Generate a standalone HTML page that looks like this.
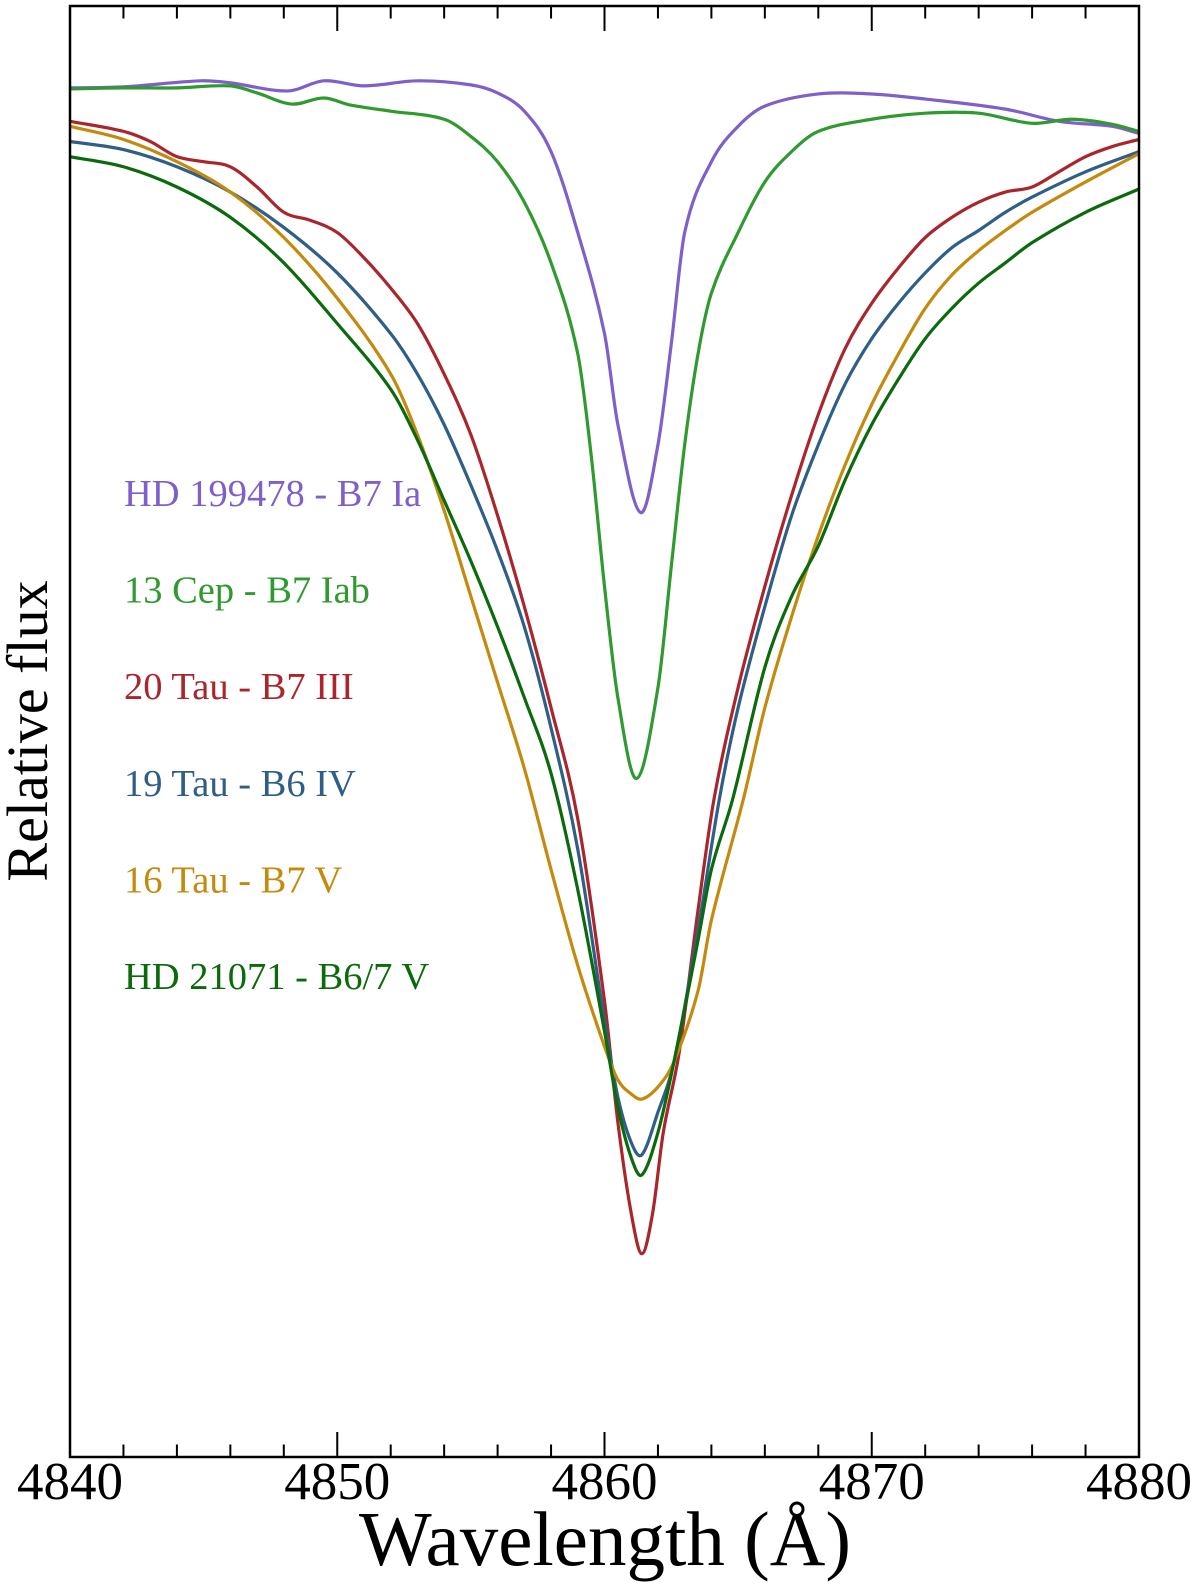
<!DOCTYPE html>
<html><head><meta charset="utf-8"><style>
html,body{margin:0;padding:0;background:#fff;}
svg{display:block;font-family:"Liberation Serif",serif;}
</style></head><body>
<svg id="chart" width="1200" height="1584" viewBox="0 0 1200 1584" xmlns="http://www.w3.org/2000/svg">
<g id="lines"></g>
<g id="axes"></g>
<g id="labels"></g>
</svg>
<script>
const xTicksMajor = [4840, 4850, 4860, 4870, 4880];
const xTickLabels = ["4840", "4850", "4860", "4870", "4880"];
const seriesNames = ["HD 199478 - B7 Ia", "13 Cep - B7 Iab", "20 Tau - B7 III", "19 Tau - B6 IV", "16 Tau - B7 V", "HD 21071 - B6/7 V"];
const seriesColors = ["#7f5fc9", "#2f9a2f", "#a9262c", "#2f5e86", "#c38a0e", "#0b6a0b"];

const purpleX = [4840,4842,4844.9,4846,4848.15,4849.5,4851,4853,4855,4856,4857,4858,4859,4860,4860.5,4861.35,4862,4862.5,4863,4864,4865,4866,4868,4870,4872,4875,4877,4879,4880];
const purpleY = [1.354,1.355,1.361,1.359,1.351,1.361,1.356,1.361,1.357,1.349,1.331,1.291,1.211,1.111,1.021,0.934,1.001,1.101,1.211,1.281,1.316,1.336,1.348,1.348,1.343,1.333,1.321,1.316,1.309];

const greenX = [4840,4842,4844,4846,4847,4848.3,4849.5,4850.5,4852,4854,4855,4856,4857,4858,4859,4859.5,4860,4860.5,4861.2,4862,4862.5,4863,4863.5,4864,4865,4866,4867,4868,4870,4872,4874,4876,4877.5,4879,4880];
const greenY = [1.353,1.354,1.354,1.356,1.349,1.338,1.344,1.337,1.331,1.323,1.306,1.281,1.241,1.181,1.091,0.991,0.861,0.751,0.671,0.761,0.881,1.001,1.091,1.151,1.211,1.261,1.291,1.311,1.323,1.329,1.329,1.319,1.323,1.318,1.311];

const redX = [4840,4842,4843,4844,4845,4846,4847,4848,4849,4850,4851,4852,4853,4854,4855,4856,4857,4858,4859,4860,4860.5,4861,4861.4,4861.8,4862.2,4862.8,4863.5,4864.1,4865,4866,4867,4868,4869,4870,4871,4872,4873,4874,4875,4876,4877,4878,4879,4880];
const redY = [1.321,1.311,1.301,1.286,1.281,1.276,1.256,1.231,1.223,1.211,1.186,1.156,1.121,1.071,1.011,0.931,0.841,0.741,0.631,0.451,0.331,0.241,0.201,0.241,0.321,0.401,0.541,0.651,0.761,0.861,0.951,1.031,1.096,1.141,1.176,1.206,1.226,1.241,1.251,1.256,1.271,1.286,1.296,1.303];

const blueX = [4840,4842,4844,4846,4848,4850,4852,4853,4854,4855,4856,4857,4858,4859,4860,4860.5,4861,4861.4,4862,4862.6,4863.5,4864.3,4865,4866,4867,4868,4869,4870,4871,4872,4873,4874,4875,4876,4878,4880];
const blueY = [1.301,1.293,1.276,1.251,1.216,1.171,1.111,1.071,1.021,0.961,0.896,0.821,0.721,0.601,0.431,0.356,0.311,0.299,0.341,0.391,0.521,0.651,0.741,0.841,0.931,1.001,1.061,1.106,1.141,1.171,1.196,1.213,1.231,1.246,1.271,1.291];

const goldX = [4840,4842,4844,4846,4848,4850,4852,4853,4854,4855,4856,4857,4858,4859,4860,4860.5,4861,4861.4,4862,4862.6,4863.5,4864,4865.2,4866,4867,4868,4869,4870,4871,4872,4873,4874,4875,4876,4878,4880];
const goldY = [1.316,1.303,1.281,1.251,1.206,1.146,1.071,1.011,0.936,0.851,0.766,0.681,0.581,0.486,0.406,0.373,0.359,0.354,0.366,0.391,0.461,0.531,0.651,0.741,0.831,0.911,0.981,1.041,1.091,1.136,1.169,1.193,1.213,1.231,1.261,1.289];

const dgreenX = [4840,4842,4844,4846,4848,4850,4852,4853,4854,4855,4856,4857,4858,4859,4860,4860.5,4861,4861.4,4862,4862.6,4863.5,4864,4864.8,4866,4867,4868,4869,4870,4871,4872,4873,4874,4875,4876,4878,4880];
const dgreenY = [1.286,1.276,1.256,1.226,1.181,1.121,1.056,1.006,0.946,0.886,0.821,0.751,0.676,0.561,0.421,0.346,0.296,0.279,0.321,0.391,0.511,0.581,0.651,0.781,0.851,0.901,0.966,1.021,1.066,1.106,1.136,1.161,1.181,1.201,1.231,1.254];

const L = 70, R = 1139, T = 6, B = 1457;
const xMin = 4840, xMax = 4880, yMin = 0, yMax = 1.435;
function xs(v){ return L + (v - xMin) / (xMax - xMin) * (R - L); }
function ys(v){ return B - (v - yMin) / (yMax - yMin) * (B - T); }
const NS = "http://www.w3.org/2000/svg";

function smoothPath(X, Y){
  const n = X.length, px = X.map(xs), py = Y.map(ys), m = new Array(n);
  m[0] = (py[1]-py[0])/(px[1]-px[0]);
  m[n-1] = (py[n-1]-py[n-2])/(px[n-1]-px[n-2]);
  for (let i = 1; i < n - 1; i++) m[i] = (py[i+1]-py[i-1])/(px[i+1]-px[i-1]);
  let s = "M" + px[0].toFixed(2) + "," + py[0].toFixed(2);
  for (let i = 0; i < n - 1; i++){
    const h = (px[i+1]-px[i])/3;
    s += "C" + (px[i]+h).toFixed(2) + "," + (py[i]+m[i]*h).toFixed(2) + " " +
         (px[i+1]-h).toFixed(2) + "," + (py[i+1]-m[i+1]*h).toFixed(2) + " " +
         px[i+1].toFixed(2) + "," + py[i+1].toFixed(2);
  }
  return s;
}

const seriesX = [purpleX, greenX, redX, blueX, goldX, dgreenX];
const seriesY = [purpleY, greenY, redY, blueY, goldY, dgreenY];
const seriesKeys = ["hd199478", "13-cep", "20-tau", "19-tau", "16-tau", "hd21071"];
const gl = document.getElementById("lines");
for (let k = 0; k < 6; k++){
  const p = document.createElementNS(NS, "path");
  p.setAttribute("d", smoothPath(seriesX[k], seriesY[k]));
  p.setAttribute("fill", "none");
  p.setAttribute("stroke", seriesColors[k]);
  p.setAttribute("stroke-width", "3.2");
  p.setAttribute("stroke-linejoin", "round");
  
  
  gl.appendChild(p);
}

const ga = document.getElementById("axes");
const frame = document.createElementNS(NS, "rect");
frame.setAttribute("x", L); frame.setAttribute("y", T);
frame.setAttribute("width", R - L); frame.setAttribute("height", B - T);
frame.setAttribute("fill", "none"); frame.setAttribute("stroke", "#000"); frame.setAttribute("stroke-width", "2.5");


ga.appendChild(frame);
for (let v = xMin; v <= xMax; v += 2){
  const major = (v % 10 === 0);
  if (v === xMin || v === xMax) continue;
  const len = major ? 25 : 12.5;
  [[B, B - len], [T, T + len]].forEach(function(pr, j){
    const t = document.createElementNS(NS, "line");
    t.setAttribute("x1", xs(v)); t.setAttribute("x2", xs(v));
    t.setAttribute("y1", pr[0]); t.setAttribute("y2", pr[1]);
    t.setAttribute("stroke", "#000"); t.setAttribute("stroke-width", "2");
    
    
    ga.appendChild(t);
  });
}
for (let i = 0; i < xTicksMajor.length; i++){
  const tx = document.createElementNS(NS, "text");
  tx.setAttribute("x", xs(xTicksMajor[i])); tx.setAttribute("y", 1499);
  tx.setAttribute("text-anchor", "middle"); tx.setAttribute("font-size", "53");
  tx.textContent = xTickLabels[i];
  
  
  ga.appendChild(tx);
}

const glab = document.getElementById("labels");
for (let k = 0; k < 6; k++){
  const t = document.createElementNS(NS, "text");
  t.setAttribute("x", 124); t.setAttribute("y", 506 + k * 96.6);
  t.setAttribute("font-size", "38.5"); t.setAttribute("fill", seriesColors[k]);
  t.textContent = seriesNames[k];
  
  
  glab.appendChild(t);
}
</script>
<svg style="position:absolute;left:0;top:0" width="1200" height="1584">
<text x="605" y="1565" text-anchor="middle" font-family="Liberation Serif, serif" font-size="77">Wavelength (Å)</text>
<text x="0" y="0" transform="translate(47,731) rotate(-90)" text-anchor="middle" font-family="Liberation Serif, serif" font-size="58">Relative flux</text>
</svg>
</body></html>
